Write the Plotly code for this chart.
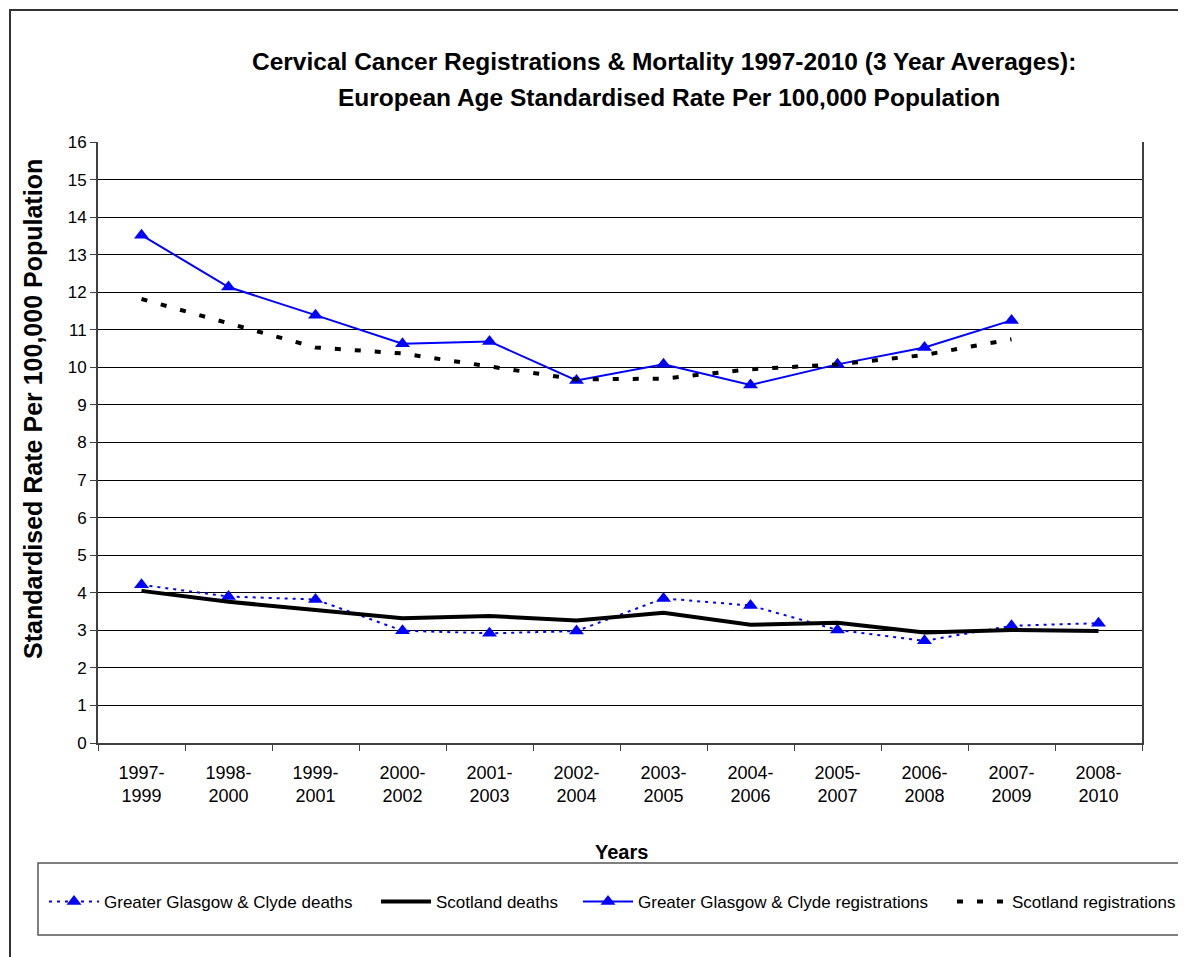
import plotly.graph_objects as go

# data
periods = ['1997-1999', '1998-2000', '1999-2001', '2000-2002', '2001-2003', '2002-2004',
           '2003-2005', '2004-2006', '2005-2007', '2006-2008', '2007-2009', '2008-2010']
period_labels = [p.replace('-', '-<br>') for p in periods]

ggc_deaths = [4.21, 3.90, 3.82, 2.99, 2.92, 2.98, 3.85, 3.66, 3.01, 2.72, 3.12, 3.19]
scot_deaths = [4.05, 3.76, 3.54, 3.32, 3.38, 3.26, 3.47, 3.15, 3.20, 2.94, 3.01, 2.98]
ggc_regs = [13.52, 12.14, 11.39, 10.63, 10.69, 9.65, 10.08, 9.53, 10.08, 10.53, 11.25, None]
scot_regs = [11.82, 11.17, 10.53, 10.37, 10.02, 9.68, 9.70, 9.95, 10.08, 10.33, 10.75, None]

# the page body has an 8px margin, so the figure is offset from the window
OFF = 8
W, H = 1186 - OFF, 957 - OFF
L, R, T, B = 98 - OFF, 1142 - OFF, 142 - OFF, 743 - OFF   # plot area in figure pixels


def px_x(x):
    # screen x -> paper
    return (x - OFF - L) / (R - L)


def px_y(y):
    # screen y -> paper
    return (B - (y - OFF)) / (B - T)


def cx(x):
    # screen x -> container
    return (x - OFF) / W


def cy(y):
    # screen y -> container
    return 1 - (y - OFF) / H


font = 'Liberation Sans, Arial, sans-serif'
blue = '#0000FF'

fig = go.Figure()
fig.add_trace(go.Scatter(x=periods, y=ggc_deaths, name='Greater Glasgow & Clyde deaths',
                         mode='lines+markers', line=dict(color=blue, width=2, dash='3px,5px'),
                         marker=dict(symbol='triangle-up', size=13, color=blue), legend='legend'))
fig.add_trace(go.Scatter(x=periods, y=scot_deaths, name='Scotland deaths',
                         mode='lines', line=dict(color='black', width=4), legend='legend2'))
fig.add_trace(go.Scatter(x=periods, y=ggc_regs, name='Greater Glasgow & Clyde registrations',
                         mode='lines+markers', line=dict(color=blue, width=2),
                         marker=dict(symbol='triangle-up', size=13, color=blue), legend='legend3'))
fig.add_trace(go.Scatter(x=periods, y=scot_regs, name='Scotland registrations',
                         mode='lines', line=dict(color='black', width=4, dash='6px,14px'), legend='legend4'))

# legends use container coords so they don't push the plot margins
leg_common = dict(orientation='h', yanchor='middle', xanchor='left', y=cy(902),
                  xref='container', yref='container',
                  bgcolor='rgba(0,0,0,0)', itemwidth=50,
                  font=dict(family=font, size=17, color='black'))


def note(text, x, y, size, angle=0):
    return dict(text=text, x=px_x(x), y=px_y(y), xref='paper', yref='paper',
                xanchor='center', yanchor='middle', showarrow=False, textangle=angle,
                font=dict(size=size, family=font, color='black'))


fig.update_layout(
    width=W, height=H, autosize=False,
    margin=dict(l=L, r=W - R, t=T, b=H - B),
    plot_bgcolor='white', paper_bgcolor='white',
    font=dict(family=font, size=17, color='black'),
    showlegend=True,
    legend=dict(x=cx(44), **leg_common),
    legend2=dict(x=cx(376), **leg_common),
    legend3=dict(x=cx(578), **leg_common),
    legend4=dict(x=cx(952), **leg_common),
    xaxis=dict(type='category', tickmode='array', tickvals=periods, ticktext=period_labels,
               range=[-0.5, 11.5], tickson='boundaries', ticks='outside', ticklen=6,
               tickcolor='#404040', showline=True, linecolor='#404040', linewidth=2,
               showgrid=False, tickfont=dict(size=18), ticklabelstandoff=12),
    yaxis=dict(range=[0, 16], dtick=1, ticks='outside', ticklen=6, tickcolor='#404040',
               showline=True, linecolor='#404040', linewidth=2, mirror=True,
               gridcolor='black', gridwidth=1, zeroline=False, tickfont=dict(size=17)),
    annotations=[
        note('<b>Cervical Cancer Registrations & Mortality 1997-2010 (3 Year Averages):</b>', 664, 62, 24.5),
        note('<b>European Age Standardised Rate Per 100,000 Population</b>', 669, 97, 24.5),
        note('<b>Standardised Rate Per 100,000 Population</b>', 33, 409, 25, angle=-90),
        note('<b>Years</b>', 621, 852, 20),
    ],
    shapes=[
        # outer chart frame
        dict(type='rect', xref='paper', yref='paper', x0=px_x(10), x1=px_x(1210),
             y0=px_y(980), y1=px_y(10), line=dict(color='#333333', width=2), layer='below'),
        # legend box
        dict(type='rect', xref='paper', yref='paper', x0=px_x(38), x1=px_x(1200),
             y0=px_y(935), y1=px_y(863), line=dict(color='#555555', width=1.5), layer='below'),
    ],
)

fig.write_html('out.html')
